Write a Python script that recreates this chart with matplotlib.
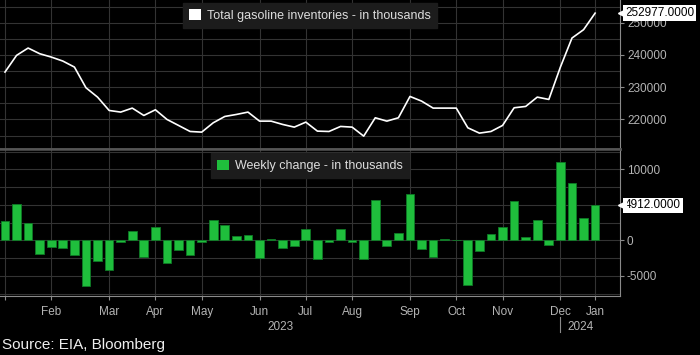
import numpy as np
import matplotlib
matplotlib.use('Agg')
import matplotlib.pyplot as plt
import matplotlib.transforms as mtransforms
from matplotlib.patches import Patch
from matplotlib.ticker import MultipleLocator, FuncFormatter

# weekly gasoline inventories (thousands of barrels), 52 weeks
inventories = [234700, 239870, 242150, 240390, 239350, 238110, 236250, 229830,
               226930, 222790, 222280, 223520, 221240, 223000, 220000, 218140,
               216270, 216070, 218970, 220930, 221550, 222280, 219480, 219480,
               218450, 217620, 219170, 216380, 216270, 217830, 217620, 214830,
               220520, 219480, 220520, 227140, 225690, 223520, 223520, 223520,
               217410, 215760, 216270, 218140, 223620, 224040, 226930, 226210,
               236250, 245250, 247840, 252977]
weekly_change = [2670, 5110, 2390, -1920, -890, -1130, -2060, -6380, -2950, -4130,
                 -280, 1310, -2390, 1830, -3190, -1310, -2060, -190, 2810, 2200,
                 560, 750, -2530, 140, -1030, -750, 1550, -2670, -190, 1550,
                 -190, -2670, 5630, -800, 1080, 6520, -1270, -2300, 140, 90,
                 -6280, -1550, 840, 1830, 5490, 470, 2810, -700, 10970, 8110,
                 3190, 4912]
month_pos = [0, 4, 9, 13, 17, 22, 26, 30, 35, 39, 43, 48, 51]
month_labels = ['', 'Feb', 'Mar', 'Apr', 'May', 'Jun', 'Jul', 'Aug', 'Sep',
                'Oct', 'Nov', 'Dec', 'Jan']

BG = 'black'
GRID = '#333333'
SPINE = '#8a8a8a'
TICKTXT = '#b4b4b4'
GREEN = '#1fbe3c'
narrow = ['Liberation Sans Narrow', 'Liberation Sans', 'DejaVu Sans']
plt.rcParams['font.family'] = ['Liberation Sans', 'DejaVu Sans']

x = np.arange(len(inventories))

fig = plt.figure(figsize=(7, 3.55), dpi=100, facecolor=BG)
W, H = 700, 355
ax1 = fig.add_axes([0, (H - 148.5) / H, 620 / W, 148.5 / H], facecolor=BG)
ax2 = fig.add_axes([0, (H - 296) / H, 620 / W, 147.5 / H], facecolor=BG, sharex=ax1)

ax1.plot(x, inventories, color='white', lw=1.2, zorder=3)
ax2.bar(x, weekly_change, width=0.75, color=GREEN, edgecolor='#0e7a26',
        linewidth=0.6, zorder=3)

ax1.set_xlim(-0.43, 53.15)
ax1.set_ylim(210990, 257050)
ax2.set_ylim(-7850, 12930)

for ax in (ax1, ax2):
    ax.yaxis.tick_right()
    ax.set_xticks(month_pos)
    ax.grid(True, which='both', color=GRID, lw=0.8, zorder=0)
    ax.set_axisbelow(True)
    ax.spines['left'].set_visible(False)
    for s in ('right', 'top', 'bottom'):
        ax.spines[s].set_color(SPINE)
    ax.tick_params(axis='y', which='major', colors=SPINE, labelcolor=TICKTXT,
                   labelsize=8.5, length=3, pad=2)
    ax.tick_params(axis='y', which='minor', length=0)

ax1.spines['top'].set_visible(False)
ax1.spines['bottom'].set_linewidth(1.8)
ax1.spines['bottom'].set_color('#555555')
ax2.spines['top'].set_linewidth(1.8)
ax2.spines['top'].set_color('#555555')

ax1.yaxis.set_major_locator(MultipleLocator(10000))
ax1.yaxis.set_minor_locator(MultipleLocator(5000))
ax1.yaxis.set_major_formatter(FuncFormatter(lambda v, p: f'{v:.0f}'))
ax1.tick_params(axis='x', length=0, labelbottom=False)

# the 5000 label sits under the last-value tag in the reference
ax2.yaxis.set_major_locator(MultipleLocator(5000))
ax2.yaxis.set_minor_locator(MultipleLocator(2500))
ax2.yaxis.set_major_formatter(FuncFormatter(lambda v, p: '' if round(v) == 5000 else f'{v:.0f}'))
ax2.set_xticklabels(month_labels)
ax2.tick_params(axis='x', colors=SPINE, labelcolor=TICKTXT, labelsize=8.5,
                length=3, pad=4)
for lbl in ax2.get_xticklabels():
    lbl.set_family(narrow)

# year labels and separator
tr = mtransforms.blended_transform_factory(ax2.transData, ax2.transAxes)
ax2.text(23.85, -0.21, '2023', transform=tr, ha='center', va='center',
         color=TICKTXT, fontsize=8.5, family=narrow)
ax2.text(49.7, -0.21, '2024', transform=tr, ha='center', va='center',
         color=TICKTXT, fontsize=8.5, family=narrow)
ax2.plot([48, 48], [-0.145, -0.245], transform=tr, color=SPINE, lw=0.8,
         clip_on=False)

# legends
for ax, col, lab, ytop in ((ax1, 'white', 'Total gasoline inventories - in thousands', 1.022),
                           (ax2, GREEN, 'Weekly change - in thousands', 1.01)):
    leg = ax.legend(handles=[Patch(facecolor=col, edgecolor='none', label=lab)],
                    loc='upper center', bbox_to_anchor=(0.5, ytop), fontsize=9,
                    handlelength=0.9, handleheight=0.9, handletextpad=0.5,
                    borderpad=0.5, frameon=True, fancybox=False, labelcolor='#dddddd')
    leg.get_frame().set_facecolor('#1c1c1c')
    leg.get_frame().set_edgecolor('#1c1c1c')
    leg.get_frame().set_alpha(1)

# last value tags
for ax, val in ((ax1, inventories[-1]), (ax2, weekly_change[-1])):
    ttr = mtransforms.blended_transform_factory(ax.transAxes, ax.transData)
    ax.text(1.008, val, f'{val:.4f}', transform=ttr, ha='left', va='center',
            fontsize=8.5, color='black', clip_on=False, zorder=10,
            bbox=dict(boxstyle='square,pad=0.15', facecolor='white', edgecolor='none'))
    ax.plot([1.004], [val], marker='<', markersize=6, color='white',
            transform=ttr, clip_on=False, zorder=10)

fig.text(0.003, (H - 345) / H, 'Source: EIA, Bloomberg', color='#eeeeee',
         fontsize=11, va='center', ha='left')

fig.savefig('out.png', dpi=100, facecolor=BG)
